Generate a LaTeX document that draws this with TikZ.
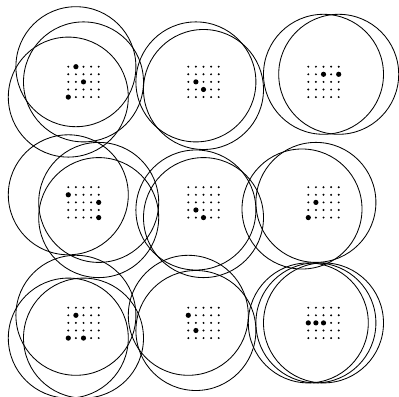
\documentclass[tikz,border=0pt]{standalone}
\usepackage{tikz}

\tikzset{
  ring/.style={draw, line width=0.6pt},
  grain/.style={fill=black},
}

% 5x5 grid of small dots, first dot at (#1,#2), marked dots in #3
\newcommand{\dotgrid}[3]{%
  \foreach \i in {0,...,4}
    \foreach \j in {0,...,4}
      \fill[grain] (#1+\i*7.6, #2+\j*7.6) circle (1.1);
  \foreach \i/\j in {#3}
    \fill[grain] (#1+\i*7.6, #2+\j*7.6) circle (2.6);
}
% rings of radius 60 round the marked dots
\newcommand{\rings}[3]{%
  \foreach \i/\j in {#3}
    \draw[ring] (#1+\i*7.6, #2+\j*7.6) circle (60);
}

\begin{document}
\begin{tikzpicture}[x=0.25mm,y=-0.25mm]
    \useasboundingbox (0,0) rectangle (399,397);

    % top row
    \dotgrid{68.3}{66.7}{1/0, 2/2, 0/4}
    \rings{68.3}{66.7}{1/0, 2/2, 0/4}
    \dotgrid{188.3}{66.7}{1/2, 2/3}
    \rings{188.3}{66.7}{1/2, 2/3}
    \dotgrid{308.3}{66.7}{2/1, 4/1}
    \rings{308.3}{66.7}{2/1, 4/1}

    % middle row
    \dotgrid{68.3}{187.2}{0/1, 4/2, 4/4}
    \rings{68.3}{187.2}{0/1, 4/2, 4/4}
    \dotgrid{188.3}{187.2}{1/3, 2/4}
    \rings{188.3}{187.2}{1/3, 2/4}
    \dotgrid{308.3}{187.2}{1/2, 0/4}
    \rings{308.3}{187.2}{1/2}
    \draw[ring] (302,209) circle (60);

    % bottom row
    \dotgrid{68.3}{307.7}{1/1, 0/4, 2/4}
    \rings{68.3}{307.7}{1/1, 0/4, 2/4}
    \dotgrid{188.3}{307.7}{0/1, 1/3}
    \rings{188.3}{307.7}{0/1, 1/3}
    \dotgrid{308.3}{307.7}{0/2, 1/2, 2/2}
    \rings{308.3}{307.7}{0/2, 1/2, 2/2}
\end{tikzpicture}
\end{document}
